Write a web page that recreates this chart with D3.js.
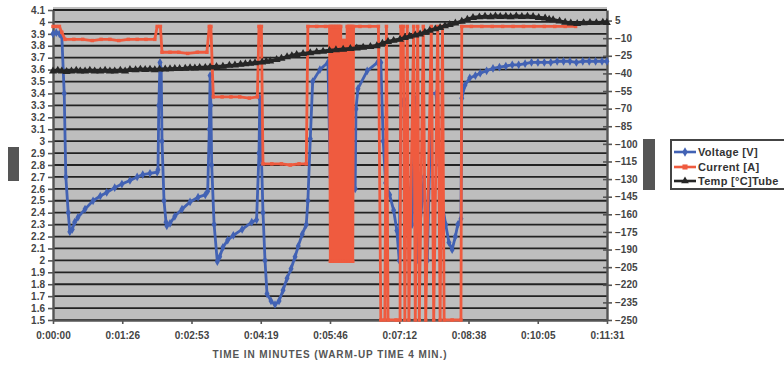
<!DOCTYPE html>
<html>
<head>
<meta charset="utf-8">
<script src="https://cdnjs.cloudflare.com/ajax/libs/d3/7.8.5/d3.min.js"></script>
<style>
  body { margin: 0; background: #fff; }
  svg text { font-family: "Liberation Sans", Arial, sans-serif; font-weight: bold; fill: #444; }
</style>
</head>
<body>
<div id="chart"></div>
<script>
// [time in seconds, value]
const voltage = [
  [0,3.90],[4,3.91],[8,3.90],[11,3.88],[14,3.4],[16,2.7],[19,2.4],[21,2.24],[24,2.26],[27,2.32],
  [31,2.36],[40,2.43],[50,2.50],[59,2.54],[67,2.57],[77,2.61],[86,2.64],[96,2.67],[105,2.70],[112,2.72],
  [121,2.73],[130,2.74],[131,2.76],[132,3.3],[133.5,3.66],[135,3.6],[136,3.0],[138.5,2.5],[141,2.32],[142,2.29],
  [146,2.31],[152,2.37],[161,2.43],[171,2.49],[181,2.53],[190,2.55],[193,2.58],[195,3.1],[196,3.55],[197,3.3],
  [198,2.8],[201,2.3],[205,1.99],[208,2.03],[212,2.11],[218,2.17],[225,2.21],[236,2.26],[248,2.32],[254,2.34],
  [257,2.9],[258,3.36],[259.5,3.0],[262,2.4],[264.5,2.0],[267,1.72],[272,1.66],[277,1.63],[282,1.66],[287,1.75],
  [292,1.85],[297,1.93],[302,2.03],[306,2.12],[311,2.22],[316,2.30],[318,2.5],[321,3.02],[324,3.5],[333,3.6],
  [343,3.66],[346,2.7],[358,2.62],[371,2.6],[377,2.6],[378,3.27],[380.5,3.44],[392,3.59],[405,3.66],[409,3.66],
  [412,3.0],[415,2.65],[420,2.55],[425,2.42],[429,2.25],[432,2.0],[434,3.3],[438,3.35],[443,2.6],[448,2.3],
  [452,3.35],[454,2.0],[458,2.3],[463,2.7],[467,2.0],[472,3.4],[478,3.4],[482,2.8],[485,2.5],[490,2.3],
  [494,2.15],[498,2.09],[502,2.2],[505,2.3],[509,2.35],[510,3.36],[514,3.47],[520,3.53],[527,3.55],[533,3.57],
  [541,3.59],[549,3.61],[557,3.62],[565,3.63],[573,3.64],[581,3.64],[589,3.65],[597,3.66],[605,3.66],[613,3.66],
  [621,3.66],[629,3.67],[637,3.67],[645,3.67],[653,3.66],[661,3.67],[669,3.67],[677,3.67],[685,3.67],[691,3.67]
];
const current = [
  [0,0],[4,0],[8,0],[11,-5],[15,-11],[26,-11],[37,-11],[49,-12],[60,-11],[71,-11],
  [82,-12],[94,-11],[105,-11],[116,-11],[127,-11],[130,0],[134,0],[136,-22],[146,-22],[157,-22],
  [168,-23],[180,-22],[192,-22],[195,0],[197,0],[200,-60],[211,-60],[222,-60],[233,-60],[245,-61],
  [255,-60],[257,0],[260,0],[262,-117],[273,-117],[285,-117],[296,-118],[307,-117],[316,-117],[318,0],
  [329,0],[340,0],[345,0],[346,-200],[347,0],[348,-200],[349,0],[350,-200],[351,0],[352,-200],
  [353,0],[354,-200],[355,0],[356,-200],[357,0],[358,-200],[359,0],[360,-200],[361,-12],[362,-200],
  [363,-12],[364,-200],[365,-12],[366,-200],[367,0],[368,-200],[369,0],[370,-200],[371,0],[372,-200],
  [373,0],[374,-200],[375,0],[383,0],[395,0],[406,0],[409,-250],[414,-250],[416,0],[418,-250],
  [428,-250],[433,-250],[434,0],[437,0],[439,-250],[442,0],[444,-250],[450,0],[452,-250],[455,0],
  [457,-250],[462,0],[465,-250],[472,0],[475,-250],[480,0],[483,-250],[486,0],[488,-250],[498,-250],
  [509,-250],[510,0],[522,0],[535,0],[548,0],[561,0],[574,0],[587,0],[600,0],[613,0],
  [626,0],[639,0],[652,0]
];
const temp = [
  [0,-38],[6,-37.5],[11,-38],[17,-38.5],[23,-38],[29,-37.5],[34,-38],[40,-38],[46,-37.5],[52,-38],
  [59,-38],[65,-37.5],[71,-38],[77,-38],[84,-37.5],[90,-38],[96,-36.8],[103,-37],[109,-36.5],[115,-36.8],
  [121,-36.5],[127,-37],[133,-36.5],[140,-36.4],[146,-36.2],[152,-36],[158,-36],[165,-35.8],[171,-35.3],[177,-35.5],
  [183,-35],[190,-35],[196,-34.6],[204,-34.2],[212,-34],[220,-33.2],[227,-33],[234,-32.3],[240,-32],[246,-31.5],
  [252,-31],[261,-30.5],[266,-29.8],[271,-29.5],[279,-28.3],[285,-27.2],[292,-26],[298,-25],[304,-24],[312,-23.2],
  [321,-22.5],[329,-21.8],[337,-21.2],[345,-20.6],[353,-20],[362,-19.5],[371,-19],[379,-18.5],[387,-17.8],[396,-17.3],
  [404,-16.5],[411,-14.5],[418,-13],[425,-12],[433,-11],[439,-9.5],[445,-8.5],[452,-7.5],[458,-6.5],[464,-5],
  [470,-3.5],[477,-2.2],[483,-1],[489,0.5],[495,1.5],[502,2.8],[510,4.2],[517,6],[524,7.5],[532,8],
  [539,8.5],[546,8.2],[552,8.8],[558,8.4],[565,8.6],[571,8.2],[578,8.8],[585,8.4],[592,8.6],[599,8.3],
  [606,7.5],[614,7],[619,6],[624,5.6],[632,4.5],[639,3.5],[646,2.8],[654,2.4],[662,3],[670,3.3],
  [678,3.1],[686,3.4],[691,3.3]
];

const xTicks = [0, 86.4, 172.8, 259.2, 345.6, 432, 518.4, 604.8, 691.2];
const xTickLabels = ["0:00:00", "0:01:26", "0:02:53", "0:04:19", "0:05:46", "0:07:12", "0:08:38", "0:10:05", "0:11:31"];
const leftTicks = [1.5, 1.6, 1.7, 1.8, 1.9, 2, 2.1, 2.2, 2.3, 2.4, 2.5, 2.6, 2.7, 2.8, 2.9, 3, 3.1, 3.2, 3.3, 3.4, 3.5, 3.6, 3.7, 3.8, 3.9, 4, 4.1];
const rightTicks = [-250, -235, -220, -205, -190, -175, -160, -145, -130, -115, -100, -85, -70, -55, -40, -25, -10, 5];
const seriesNames = ["Voltage [V]", "Current [A]", "Temp [°C]Tube"];
const xTitle = "TIME IN MINUTES (WARM-UP TIME 4 MIN.)";

const width = 784, height = 365;
const plot = {left: 53, right: 607, top: 7, bottom: 320};
const colors = {volt: "#4262b4", amp: "#ef5b3f", temp: "#262626"};

const svg = d3.select("#chart")
  .append("svg")
  .attr("width", width)
  .attr("height", height);

const x = d3.scaleLinear().domain([0, 691.2]).range([plot.left, plot.right]);
const yL = d3.scaleLinear().domain([1.5, 4.1]).range([plot.bottom, 10]);
const yR = d3.scaleLinear().domain([-250, 14]).range([plot.bottom, 10]);

// plot background
svg.append("rect")
  .attr("x", plot.left)
  .attr("y", plot.top)
  .attr("width", plot.right - plot.left)
  .attr("height", plot.bottom - plot.top)
  .attr("fill", "#bebebe");

// gridlines from left axis
svg.append("g")
  .selectAll("line")
  .data(leftTicks)
  .enter()
  .append("line")
  .attr("x1", plot.left)
  .attr("x2", plot.right)
  .attr("y1", d => yL(d))
  .attr("y2", d => yL(d))
  .attr("stroke", "#222")
  .attr("stroke-width", 1.8);

// Add left axis
const axL = svg.append("g")
  .attr("transform", "translate(" + plot.left + ",0)")
  .attr("font-size", 10.5)
  .call(d3.axisLeft(yL).tickValues(leftTicks).tickSize(5).tickSizeOuter(0).tickPadding(3).tickFormat(d => String(d)));

// Add right axis
const axR = svg.append("g")
  .attr("transform", "translate(" + plot.right + ",0)")
  .attr("font-size", 10.5)
  .call(d3.axisRight(yR).tickValues(rightTicks).tickSize(5).tickSizeOuter(0).tickPadding(3));
axR.selectAll(".tick line").attr("x1", -4);

// Add X axis
const axX = svg.append("g")
  .attr("transform", "translate(0," + plot.bottom + ")")
  .attr("font-size", 11)
  .call(d3.axisBottom(x).tickValues(xTicks).tickSize(4).tickSizeOuter(0).tickPadding(8).tickFormat((d, i) => xTickLabels[i]));

[axL, axR, axX].forEach(a => {
  a.select(".domain").attr("stroke", "#555").attr("stroke-width", 2.4);
  a.selectAll(".tick line").attr("stroke", "#555").attr("stroke-width", 1.6);
});

function drawSeries(data, y, color, width, symbolType, symbolSize) {
  const line = d3.line().x(d => x(d[0])).y(d => y(d[1]));
  const g = svg.append("g");
  g.append("path")
    .datum(data)
    .attr("d", line)
    .attr("fill", "none")
    .attr("stroke", color)
    .attr("stroke-width", width)
    .attr("stroke-linejoin", "round");
  g.selectAll("path.mark")
    .data(data)
    .enter()
    .append("path")
    .attr("class", "mark")
    .attr("transform", d => "translate(" + x(d[0]) + "," + y(d[1]) + ")")
    .attr("d", d3.symbol().type(symbolType).size(symbolSize))
    .attr("fill", color);
}

drawSeries(voltage, yL, colors.volt, 2.8, d3.symbolDiamond, 22);
drawSeries(current, yR, colors.amp, 2.8, d3.symbolSquare, 12);
drawSeries(temp, yR, colors.temp, 3.6, d3.symbolTriangle, 28);

// axis title
svg.append("text")
  .attr("x", 330)
  .attr("y", 358)
  .attr("text-anchor", "middle")
  .attr("font-size", 10)
  .attr("letter-spacing", 0.9)
  .style("fill", "#555")
  .text(xTitle);

// blanked out axis titles
svg.append("rect").attr("x", 8).attr("y", 147).attr("width", 11).attr("height", 34).attr("fill", "#555");
svg.append("rect").attr("x", 643).attr("y", 139).attr("width", 12).attr("height", 51).attr("fill", "#555");

// legend
const legend = svg.append("g");
legend.append("rect")
  .attr("x", 671)
  .attr("y", 140)
  .attr("width", 130)
  .attr("height", 49)
  .attr("fill", "#fff")
  .attr("stroke", "#444")
  .attr("stroke-width", 2);

const legendColors = [colors.volt, colors.amp, colors.temp];
const legendSymbols = [d3.symbolDiamond, d3.symbolSquare, d3.symbolTriangle];
const legendY = [152, 167, 181];
seriesNames.forEach((name, i) => {
  legend.append("line")
    .attr("x1", 674).attr("x2", 696)
    .attr("y1", legendY[i]).attr("y2", legendY[i])
    .attr("stroke", legendColors[i])
    .attr("stroke-width", 2.6);
  legend.append("path")
    .attr("transform", "translate(685," + legendY[i] + ")")
    .attr("d", d3.symbol().type(legendSymbols[i]).size(26))
    .attr("fill", legendColors[i]);
  legend.append("text")
    .attr("x", 698)
    .attr("y", legendY[i])
    .attr("dy", "0.36em")
    .attr("font-size", 11)
    .attr("letter-spacing", 0.3)
    .style("fill", "#333")
    .text(name);
});
</script>
</body>
</html>
